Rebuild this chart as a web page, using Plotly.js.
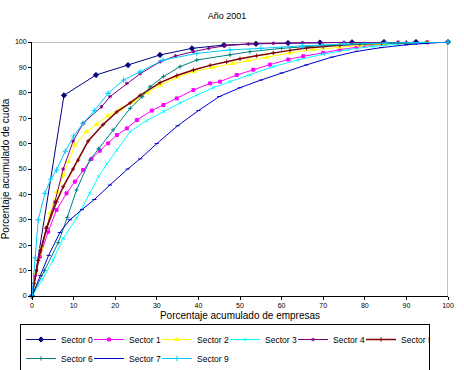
<!DOCTYPE html>
<html>
<head>
<meta charset="utf-8">
<script src="https://cdn.plot.ly/plotly-3.0.1.min.js"></script>
<style>html,body{margin:0;padding:0;background:#fff}#chart{width:464px;height:370px}</style>
</head>
<body>
<div id="chart"></div>
<script>
// Sector 0
var s0x = [0,7.69,15.38,23.08,30.77,38.46,46.15,53.85,61.54,69.23,76.92,84.62,92.31,100];
var s0y = [0,79,87,90.9,94.9,97.5,98.8,99.3,99.6,99.8,99.9,100,100,100];
// Sector 1
var s1x = [0,0.7,1.9,3.9,5.9,8.3,10.3,12.3,14.3,16.3,18.3,20.4,22.8,25.2,28.8,31.6,34.8,38.8,42.8,45.2,49.2,53.2,57.2,61.6,65.2,70,74,78,84.4,90,95,100];
var s1y = [0,8.3,15.5,25.3,33.9,40.4,45,49.6,54,57.2,60.1,63.4,66,69.3,73,75.2,77.8,81.1,83.7,84.4,87,89.1,91.1,93.1,94.4,95.7,97,97.9,99.2,99.6,99.9,100];
// Sector 2
var s2x = [0,1,2.3,4.3,6,7.5,8.7,10.3,13.1,15.5,18.3,21.2,24.4,27.6,30.8,34.8,38.8,43.5,48.3,52,56.4,62,67.5,74,78.8,85,90,95,100];
var s2y = [0,9,18.8,32.6,41,47.6,53,59.4,64.7,67.6,71,73.5,76.5,80,83,86,88.3,90,91.6,92.8,94,95.7,97,97.9,98.7,99.2,99.6,99.9,100];
// Sector 3
var s3x = [0,2.5,5.1,7.5,10.7,13.9,16,18,20.4,23.6,27.5,31.6,35.6,39.6,43.6,47.6,52.4,58,64,70,76,82,88,94,100];
var s3y = [0,6.5,14.2,22.7,30.6,40.4,47,52,57.5,64.7,69,72.6,76,79.1,82,84.4,87,90.3,93,95.2,97,98.3,99.2,99.7,100];
// Sector 4
var s4x = [0,1.1,2,3.5,5.5,7.5,9.9,12.3,16.7,18.75,22.8,26,30.8,34.5,38.8,42.5,46.4,52,58,65,75,88,100];
var s4y = [0,10,18,27,37,50,61,68,74.5,78.5,83.7,87.5,92.2,94.5,96.2,97.5,98.5,99.2,99.5,99.7,99.9,100,100];
// Sector 5
var s5x = [0,0.5,1.5,3.5,5.9,7.5,9.9,11.1,13.5,17.1,20.4,23.6,26,30.8,34.8,38.8,42.8,46.8,50,54,58,62,66,70,74,78.8,84,90,95,100];
var s5y = [0,5,14,26.6,37.1,43,50,53.5,61,67.5,72.5,76,79,84,86.8,89,90.8,92.2,93.4,94.6,95.7,96.7,97.6,98.2,98.7,99.2,99.5,99.8,99.9,100];
// Sector 6
var s6x = [0,3,6.3,8.5,10.7,13.9,16,19.5,23.6,26.5,28.4,31.6,35.6,39.6,47.6,52.4,60,70,80,90,100];
var s6y = [0,10,21,31,41.7,53.5,58,65.4,73.9,78.5,82.4,86.4,90.3,92.9,94.9,96.2,97.5,98.6,99.3,99.8,100];
// Sector 7
var s7x = [0,2,4,6.7,9.1,12,15,18.75,23,26,30,35,40,45,50,55,60,66,72,78,84,90,95,100];
var s7y = [0,8,16,25,30,34,38,43.7,50,54,60,67,73,78.5,82,85,87.8,91,94,96.3,97.8,98.9,99.5,100];
// Sector 9
var s9x = [0,0.8,1.5,3.1,4.5,5.9,8,10,12.3,15,18.3,22,26,31.5,39.6,47.6,55,65,75,85,100];
var s9y = [0,15,30,40.4,46,49.6,57,63,68,73,79.8,85,88.3,92.9,95.5,96.9,97.5,98.5,99.2,99.6,100];

var names = ["Sector 0","Sector 1","Sector 2","Sector 3","Sector 4","Sector 5","Sector 6","Sector 7","Sector 9"];
var xs = [s0x,s1x,s2x,s3x,s4x,s5x,s6x,s7x,s9x];
var ys = [s0y,s1y,s2y,s3y,s4y,s5y,s6y,s7y,s9y];
var colors = ["#000080","#FF00FF","#FFFF00","#00FFFF","#800080","#800000","#008080","#0000CC","#00CCFF"];
var symbols = ["diamond","square","triangle-up","x-thin-open","asterisk-open","cross-thin-open","cross-thin-open","line-ew-open","cross-thin-open"];
var msizes = [4,3,4,3,3,3,3,3,4];

var traces = [];
for (var i = 0; i < names.length; i++) {
  traces.push({
    type: "scatter", mode: "lines+markers", name: names[i],
    x: xs[i], y: ys[i], cliponaxis: false,
    line: {color: colors[i], width: i === 5 ? 1.5 : 1},
    marker: {symbol: symbols[i], size: msizes[i], color: colors[i], line: {color: colors[i], width: 1}}
  });
}

var layout = {
  width: 464, height: 370,
  margin: {l: 32, r: 16, t: 42, b: 74},
  paper_bgcolor: "#fff", plot_bgcolor: "#fff",
  font: {family: "Liberation Sans, Arial, sans-serif", color: "#000"},
  title: {text: "Año 2001", font: {size: 9}, x: 227/464, xref: "container", xanchor: "center", y: 1 - 15.7/370, yref: "container", yanchor: "middle"},
  xaxis: {range: [0,100], dtick: 10, tick0: 0, showgrid: false, zeroline: false, showline: true, linecolor: "#000", linewidth: 1,
          ticks: "outside", ticklen: 3, tickcolor: "#000", tickfont: {size: 7},
          title: {text: "Porcentaje acumulado de empresas", font: {size: 10}, standoff: 3}},
  yaxis: {range: [0,100], dtick: 10, tick0: 0, showgrid: false, zeroline: false, showline: true, linecolor: "#000", linewidth: 1,
          ticks: "outside", ticklen: 3, tickcolor: "#000", tickfont: {size: 7},
          title: {text: "Porcentaje acumulado de cuota", font: {size: 10}, standoff: 4}},
  shapes: [
    {type: "line", xref: "x", yref: "y", x0: 0, x1: 100, y0: 100, y1: 100, line: {color: "#808080", width: 1}, layer: "below"},
    {type: "line", xref: "x", yref: "y", x0: 100, x1: 100, y0: 0, y1: 100, line: {color: "#808080", width: 1}, layer: "below"}
  ],
  showlegend: true,
  legend: {orientation: "h", xref: "container", x: 20/464, xanchor: "left", yref: "container", y: 1 - 324/370, yanchor: "top",
           entrywidth: 23, entrywidthmode: "pixels", bordercolor: "#000", borderwidth: 1,
           font: {size: 8.5}, tracegroupgap: 0, itemwidth: 30, traceorder: "normal"}
};

Plotly.newPlot("chart", traces, layout, {displayModeBar: false, staticPlot: true});
</script>
</body>
</html>
